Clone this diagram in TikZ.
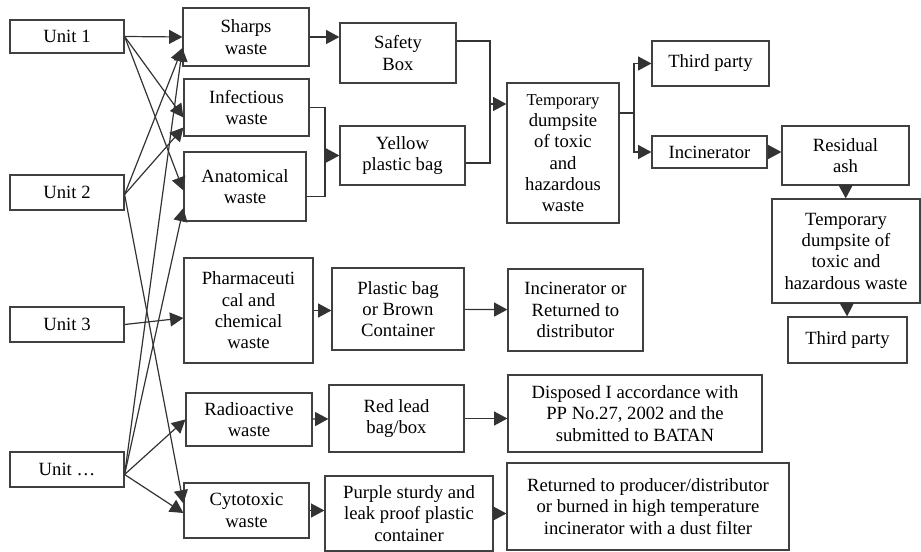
\documentclass[tikz,border=0pt]{standalone}
\usepackage{fontspec}
\setmainfont{Liberation Serif}
\usetikzlibrary{positioning}
\usetikzlibrary{calc}
\usetikzlibrary{arrows.meta}

\begin{document}
\begin{tikzpicture}
  [
    x=0.75pt, y=-0.75pt,
    wbox/.style={
       draw=black!75,
       line width=0.9pt,
       align=center,
       inner sep=1pt,
       font=\fontsize{14}{16}\selectfont
    },
    ln/.style={
       draw=black!80,
       line width=0.9pt
    },
    ar/.style={
       ln,
       -{Triangle[length=10pt,width=10.5pt]}
    }
  ]
  \useasboundingbox (0,0) rectangle (921,552);

  \node (u1) at ( 67, 36.5) [wbox, minimum width=85.5pt, minimum height=24.75pt] {Unit 1};
  \node (u2) at ( 67,192.5) [wbox, minimum width=85.5pt, minimum height=26.25pt] {Unit 2};
  \node (u3) at ( 67,324.5) [wbox, minimum width=85.5pt, minimum height=26.25pt] {Unit 3};
  \node (u4) at ( 67,469.5) [wbox, minimum width=85.5pt, minimum height=26.25pt] {Unit …};

  \node (sharps) at (246.0, 37.0) [wbox, minimum width=94.5pt,  minimum height=43.5pt]  {Sharps\\waste};
  \node (infect) at (246.5,107.5) [wbox, minimum width=93.75pt, minimum height=42.75pt] {Infectious\\waste};
  \node (anat)   at (245.0,186.5) [wbox, minimum width=91.5pt,  minimum height=51.75pt] {Anatomical\\waste};
  \node (pharma) at (248.5,310.5) [wbox, minimum width=96.75pt, minimum height=78.75pt] {Pharmaceuti\\cal and\\chemical\\waste};
  \node (radio)  at (249.0,419.5) [wbox, minimum width=94.5pt,  minimum height=39.75pt] {Radioactive\\waste};
  \node (cyto)   at (246.5,510.5) [wbox, minimum width=93.75pt, minimum height=41.25pt] {Cytotoxic\\waste};

  \node (safety)  at (398.0, 53.0) [wbox, minimum width=87pt,     minimum height=45pt]    {Safety\\Box};
  \node (yellow)  at (402.5,155.5) [wbox, minimum width=93.75pt,  minimum height=44.25pt] {Yellow\\plastic bag};
  \node (plastic) at (398.0,309.0) [wbox, minimum width=99pt,     minimum height=61.5pt]  {Plastic bag\\or Brown\\Container};
  \node (redlead) at (396.5,418.5) [wbox, minimum width=101.25pt, minimum height=50.25pt] {Red lead\\bag/box};
  \node (purple)  at (409.0,513.5) [wbox, minimum width=126pt,    minimum height=56.25pt] {Purple sturdy and\\leak proof plastic\\container};

  \node (temp1)    at (563.0,153.0) [wbox, minimum width=84pt,     minimum height=105pt]   {{\fontsize{12.5}{16}\selectfont Temporary}\\dumpsite\\of toxic\\and\\hazardous\\waste};
  \node (incor)    at (575.5,310.0) [wbox, minimum width=101.25pt, minimum height=61.5pt]  {Incinerator or\\Returned to\\distributor};
  \node (disposed) at (635.0,413.5) [wbox, minimum width=190.5pt,  minimum height=57.75pt] {Disposed I accordance with\\PP No.27, 2002 and the\\submitted to BATAN};
  \node (returned) at (648.0,506.5) [wbox, minimum width=211.5pt,  minimum height=65.25pt] {Returned to producer/distributor\\or burned in high temperature\\incinerator with a dust filter};

  \node (third1) at (710.5, 63.5) [wbox, minimum width=87.75pt, minimum height=33.75pt] {Third party};
  \node (incin)  at (709.5,152.0) [wbox, minimum width=86.25pt, minimum height=24pt]    {Incinerator};
  \node (resid)  at (845.5,155.5) [wbox, minimum width=95.25pt, minimum height=44.25pt] {Residual\\ash};
  \node (temp2)  at (846.0,251.0) [wbox, minimum width=111pt,   minimum height=78pt]    {Temporary\\dumpsite of\\toxic and\\hazardous waste};
  \node (third2) at (847.5,340.0) [wbox, minimum width=89.25pt, minimum height=34.5pt]  {Third party};

  \coordinate (u2o) at ($(u2.east)+(0,2)$);
  \coordinate (u4o) at ($(u4.east)+(0,5)$);
  \draw [ar] (u1.east) -- (sharps.west);
  \draw [ar] (u1.east) -- ($(infect.west)+(0,10)$);
  \draw [ar] (u1.east) -- ($(anat.west)+(0,4)$);
  \draw [ar] (u2o) -- ($(sharps.west)+(0,11)$);
  \draw [ar] (u2o) -- ($(infect.west)+(0,20)$);
  \draw [ar] (u2o) -- ($(cyto.west)+(0,-7)$);
  \draw [ar] (u3.east) -- ($(pharma.west)+(0,7.5)$);
  \draw [ar] (u4o) -- ($(sharps.west)+(0,11)$);
  \draw [ar] (u4o) -- ($(anat.west)+(0,21.5)$);
  \draw [ar] (u4o) -- (radio.west);
  \draw [ar] (u4o) -- ($(cyto.west)+(0,2.5)$);

  \draw [ar] (sharps.east) -- (sharps.east -| safety.west);
  \coordinate (j1) at (325,155.5);
  \draw [ln] (infect.east) -| (j1);
  \draw [ln] ($(anat.east)+(0,10)$) -| (j1);
  \draw [ar] (j1) -- (yellow.west);

  \coordinate (j2) at (490,104);
  \draw [ln] ($(safety.east)+(0,-12)$) -| (j2);
  \draw [ln] ($(yellow.east)+(0,7.5)$) -| (j2);
  \draw [ar] (j2) -- (j2 -| temp1.west);

  \coordinate (j3) at (634,113);
  \draw [ln] (j3 -| temp1.east) -- (j3);
  \draw [ar] (j3) |- (third1.west);
  \draw [ar] (j3) |- (incin.west);
  \draw [ar] (incin.east) -- (incin.east -| resid.west);
  \draw [ar] (resid) -- (temp2);
  \draw [ar] (temp2) -- (third2);

  \draw [ar] (pharma.east) -- (pharma.east -| plastic.west);
  \draw [ar] (plastic) -- (incor);
  \draw [ar] (radio) -- (redlead);
  \draw [ar] (redlead.east) -- (redlead.east -| disposed.west);
  \draw [ar] (cyto.east) -- (cyto.east -| purple.west);
  \draw [ar] (purple.east) -- (purple.east -| returned.west);
\end{tikzpicture}
\end{document}
